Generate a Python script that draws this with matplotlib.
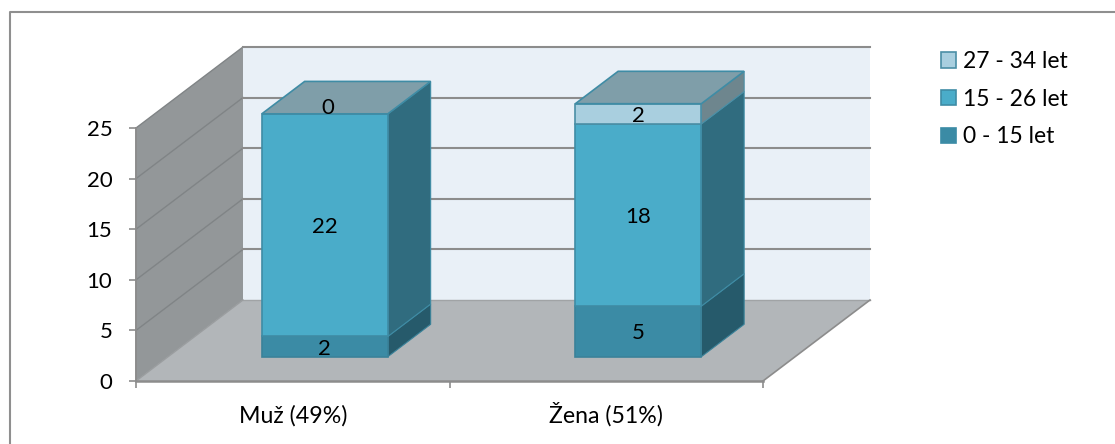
import matplotlib
matplotlib.use("Agg")
import matplotlib.pyplot as plt
from matplotlib.lines import Line2D
from matplotlib.patches import Polygon, Patch

plt.rcParams["font.family"] = ["Lato", "DejaVu Sans"]

categories = ["Muž (49%)", "Žena (51%)"]
series_names = ["0 - 15 let", "15 - 26 let", "27 - 34 let"]
young = [2, 5]
middle = [22, 18]
older = [0, 2]
y_ticks = [0, 5, 10, 15, 20, 25]

W, H = 1115, 444
front_colors = ["#3B8BA5", "#4AACC9", "#A9CFDF"]
side_colors = ["#265A6B", "#306C7F", "#6E868E"]
top_color = "#7F9EA9"
edge_colors = ["#3A8299", "#3F8CA5", "#4B8FA6"]

fig = plt.figure(figsize=(W / 100, H / 100), dpi=100, facecolor="white")

# Chart frame: only its top and left edges fall inside the canvas
fig.add_artist(Line2D([9.5 / W, 9.5 / W, 1], [0, 1 - 12 / H, 1 - 12 / H],
                      transform=fig.transFigure, color="#8F8F8F", linewidth=1.5))

# The axes rectangle is the front plane of the oblique box
ax = fig.add_axes([136 / W, 1 - 381 / H, 627 / W, 253 / H])
ax.set_xlim(-0.5, 1.5)
ax.set_ylim(0, 25)
ax.patch.set_visible(False)

# Oblique depth vector of the whole box, in data units
DX = 2 * 107 / 627
DY = 25 * 81 / 253


def proj(x, y, d):
    return (x + DX * d, y + DY * d)


def face(points, **kw):
    p = Polygon([proj(*pt) for pt in points], closed=True, clip_on=False, **kw)
    ax.add_patch(p)
    return p


x0, x1 = ax.get_xlim()
ymax = y_ticks[-1]

# Left wall, back wall and floor
face([(x0, 0, 0), (x0, 0, 1), (x0, ymax, 1), (x0, ymax, 0)], facecolor="#939799", edgecolor="none", zorder=1)
face([(x0, 0, 1), (x1, 0, 1), (x1, ymax, 1), (x0, ymax, 1)], facecolor="#E9F0F7", edgecolor="none", zorder=1)
face([(x0, 0, 0), (x1, 0, 0), (x1, 0, 1), (x0, 0, 1)], facecolor="#B2B6B9", edgecolor="none", zorder=2)

# Gridlines run along the left wall and across the back wall
for v in y_ticks:
    xs, ys = zip(proj(x0, v, 0), proj(x0, v, 1), proj(x1, v, 1))
    if v == 0:
        ax.plot(xs[1:], ys[1:], color="#A0A3A5", lw=1.0, clip_on=False, zorder=3)
        ax.plot(xs[:2], ys[:2], color="#9A9D9F", lw=1.0, clip_on=False, zorder=3)
    else:
        ax.plot(xs[:2], ys[:2], color="#808486", lw=1.0, clip_on=False, zorder=3)
        ax.plot(xs[1:], ys[1:], color="#8C8C8C", lw=1.5, clip_on=False, zorder=3)
xs, ys = zip(proj(x1, 0, 0), proj(x1, 0, 1))
ax.plot(xs, ys, color="#8C8C8C", lw=1.2, clip_on=False, zorder=3)

# Stacked columns
BAR_W = 126 / (627 / 2)
D0, D1 = 0.30, 0.70
layers = [young, middle, older]
for i in range(len(categories)):
    left, right = i - BAR_W / 2, i + BAR_W / 2
    base = 0
    for k, values in enumerate(layers):
        v = values[i]
        top = base + v
        z = 10 + k
        if v > 0:
            face([(right, base, D0), (right, base, D1), (right, top, D1), (right, top, D0)],
                 facecolor=side_colors[k], edgecolor=edge_colors[k], linewidth=0.8, zorder=z)
            face([(left, base, D0), (right, base, D0), (right, top, D0), (left, top, D0)],
                 facecolor=front_colors[k], edgecolor=edge_colors[k], linewidth=1.2, zorder=z + 0.1)
        base = top
    face([(left, base, D0), (right, base, D0), (right, base, D1), (left, base, D1)],
         facecolor=top_color, edgecolor=edge_colors[1], linewidth=1.2, zorder=14)
    # Value labels centred on each front segment
    base = 0
    for k, values in enumerate(layers):
        v = values[i]
        px, py = proj(i, base + v / 2, D0)
        ax.annotate(str(v), (px, py), xytext=(3 if v == 0 else 0, 8 if v == 0 else 0),
                    textcoords="offset pixels", ha="center", va="center_baseline",
                    fontsize=16, color="black", zorder=20, annotation_clip=False)
        base += v

# Axes lines and ticks
for side in ("top", "right"):
    ax.spines[side].set_visible(False)
for side in ("left", "bottom"):
    ax.spines[side].set_color("#8C8C8C")
    ax.spines[side].set_zorder(5)
ax.spines["left"].set_linewidth(1.4)
ax.spines["bottom"].set_linewidth(1.8)
ax.set_yticks(y_ticks)
ax.tick_params(axis="y", length=5, width=1.2, color="#8C8C8C", labelsize=16, pad=12, labelcolor="black")
ax.set_xticks([-0.5, 0.5, 1.5])
ax.set_xticklabels([])
ax.set_xticks([0, 1], labels=categories, minor=True)
ax.tick_params(axis="x", which="major", length=5, width=1.2, color="#8C8C8C")
ax.tick_params(axis="x", which="minor", length=0, labelsize=16.7, pad=30, labelcolor="black")
for lab in ax.get_xticklabels(minor=True):
    lab.set_verticalalignment("baseline")

# Legend entries run from the top of the stack downwards
handles = [Patch(facecolor=front_colors[k], edgecolor=edge_colors[k] if k else front_colors[k],
                 linewidth=1.2, label=series_names[k]) for k in (2, 1, 0)]
fig.legend(handles=handles, loc="upper left", bbox_to_anchor=(941 / W, 1 - 51 / H),
           frameon=False, fontsize=16.5, handlelength=0.65, handleheight=0.65,
           handletextpad=0.3, labelspacing=0.73, borderaxespad=0, borderpad=0)

fig.savefig("out.png", dpi=100, facecolor="white")
